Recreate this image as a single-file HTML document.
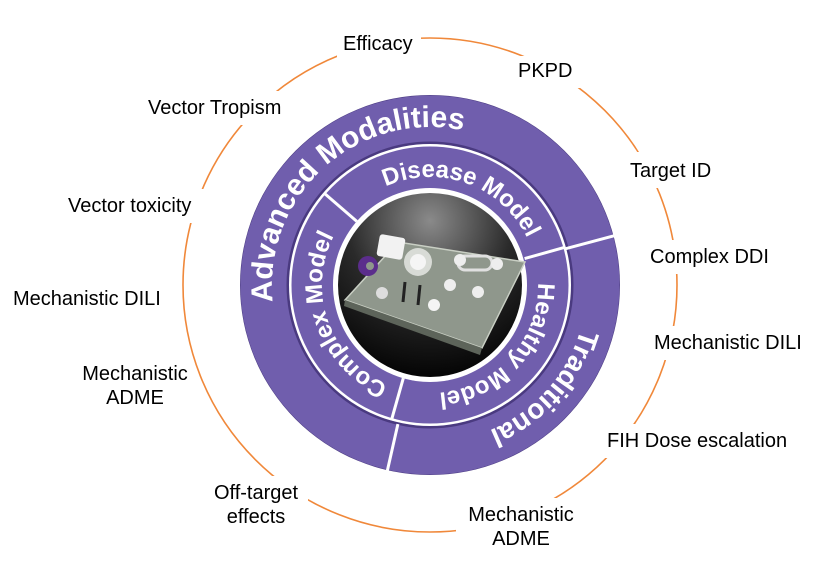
<!DOCTYPE html>
<html><head><meta charset="utf-8"><style>
html,body{margin:0;padding:0;background:#fff;}
svg{display:block;}
.l{font-family:"Liberation Sans",Arial,sans-serif;font-size:20px;fill:#000;}
.w{font-family:"Liberation Sans",Arial,sans-serif;font-weight:bold;fill:#fff;}
</style></head><body>
<svg width="820" height="564" viewBox="0 0 820 564" xmlns="http://www.w3.org/2000/svg">
<defs>
<radialGradient id="bg" cx="0.5" cy="0.15" r="0.9">
<stop offset="0" stop-color="#8a8a8a"/><stop offset="0.5" stop-color="#2a2a2a"/><stop offset="1" stop-color="#000"/>
</radialGradient>
<path id="pA" d="M535.7,402.4 A157,157 0 1 1 324.3,167.6 A157,157 0 1 1 535.7,402.4"/>
<path id="pD" d="M393.1,386.5 A106,106 0 1 1 466.9,183.5 A106,106 0 1 1 393.1,386.5"/>
<path id="pT" d="M313.3,179.9 A156,156 0 1 1 546.7,390.1 A156,156 0 1 1 313.3,179.9"/>
<path id="pH" d="M349.7,212.7 A106,106 0 1 1 510.3,357.3 A106,106 0 1 1 349.7,212.7"/>
<path id="pC" d="M531.5,248.1 A106,106 0 1 1 328.5,321.9 A106,106 0 1 1 531.5,248.1"/>
</defs>
<circle cx="430" cy="285" r="247" fill="none" stroke="#f0883a" stroke-width="1.6"/>
<g fill="#fff">
<rect x="337" y="28" width="84" height="30"/>
<rect x="508" y="56" width="76" height="32"/>
<rect x="622" y="152" width="100" height="36"/>
<rect x="644" y="240" width="132" height="34"/>
<rect x="648" y="326" width="164" height="34"/>
<rect x="600" y="424" width="200" height="34"/>
<rect x="456" y="498" width="130" height="50"/>
<rect x="204" y="476" width="104" height="50"/>
<rect x="84" y="357" width="102" height="50"/>
<rect x="8" y="282" width="164" height="34"/>
<rect x="62" y="189" width="142" height="34"/>
<rect x="142" y="91" width="150" height="34"/>
</g>
<text class="l" x="343" y="50">Efficacy</text>
<text class="l" x="518" y="77">PKPD</text>
<text class="l" x="630" y="177">Target ID</text>
<text class="l" x="650" y="263">Complex DDI</text>
<text class="l" x="654" y="349">Mechanistic DILI</text>
<text class="l" x="607" y="447">FIH Dose escalation</text>
<text class="l" x="521" y="521" text-anchor="middle">Mechanistic</text>
<text class="l" x="521" y="545" text-anchor="middle">ADME</text>
<text class="l" x="256" y="499" text-anchor="middle">Off-target</text>
<text class="l" x="256" y="523" text-anchor="middle">effects</text>
<text class="l" x="135" y="380" text-anchor="middle">Mechanistic</text>
<text class="l" x="135" y="404" text-anchor="middle">ADME</text>
<text class="l" x="13" y="305">Mechanistic DILI</text>
<text class="l" x="68" y="212">Vector toxicity</text>
<text class="l" x="148" y="114">Vector Tropism</text>
<circle cx="430" cy="285" r="190" fill="#4a3a80"/>
<circle cx="430" cy="285" r="166.5" fill="none" stroke="#705ead" stroke-width="46"/>
<circle cx="430" cy="285" r="141" fill="#fff"/>
<circle cx="430" cy="285" r="138.5" fill="#705ead"/>
<circle cx="430" cy="285" r="97" fill="#fff"/>
<circle cx="430" cy="285" r="92" fill="url(#bg)"/>
<g stroke="#fff" stroke-width="3">
<line x1="565.2" y1="248.8" x2="619.5" y2="234.3"/>
<line x1="397.9" y1="424.1" x2="386.8" y2="473.1"/>
<line x1="356.8" y1="221.4" x2="324.0" y2="193.0"/>
<line x1="524.6" y1="258.6" x2="565.2" y2="247.2"/>
<line x1="403.3" y1="378.2" x2="391.4" y2="420.3"/>
</g>
<g>
<polygon points="345,300 398,242 525,262 482,348" fill="#8f978c" stroke="#c9cfc4" stroke-width="1.5"/>
<polygon points="345,300 482,348 480,355 344,306" fill="#5d645a"/>
<rect x="378" y="236" width="26" height="22" rx="3" fill="#f2f2f2" transform="rotate(10 391 247)"/>
<circle cx="368" cy="266" r="10" fill="#5b2d8c"/><circle cx="370" cy="266" r="4" fill="#8f978c"/>
<circle cx="418" cy="262" r="14" fill="#d8dbd6"/><circle cx="418" cy="262" r="8" fill="#f5f5f5"/>
<rect x="458" y="256" width="34" height="14" rx="7" fill="none" stroke="#e0e0e0" stroke-width="3"/>
<circle cx="460" cy="260" r="6" fill="#eee"/><circle cx="497" cy="264" r="6" fill="#eee"/>
<circle cx="450" cy="285" r="6" fill="#eee"/><circle cx="478" cy="292" r="6" fill="#eee"/>
<circle cx="382" cy="293" r="6" fill="#ddd"/><circle cx="434" cy="305" r="6" fill="#f4f4f4"/>
<line x1="405" y1="282" x2="403" y2="302" stroke="#222" stroke-width="3"/>
<line x1="420" y1="285" x2="418" y2="305" stroke="#222" stroke-width="3"/>
</g>
<text class="w" font-size="30"><textPath href="#pA" startOffset="50%" text-anchor="middle">Advanced Modalities</textPath></text>
<text class="w" font-size="24"><textPath href="#pD" startOffset="50%" text-anchor="middle">Disease Model</textPath></text>
<text class="w" font-size="28"><textPath href="#pT" startOffset="50%" text-anchor="middle">Traditional</textPath></text>
<text class="w" font-size="24"><textPath href="#pH" startOffset="50%" text-anchor="middle">Healthy Model</textPath></text>
<text class="w" font-size="24"><textPath href="#pC" startOffset="50%" text-anchor="middle">Complex Model</textPath></text>
</svg>
</body></html>
